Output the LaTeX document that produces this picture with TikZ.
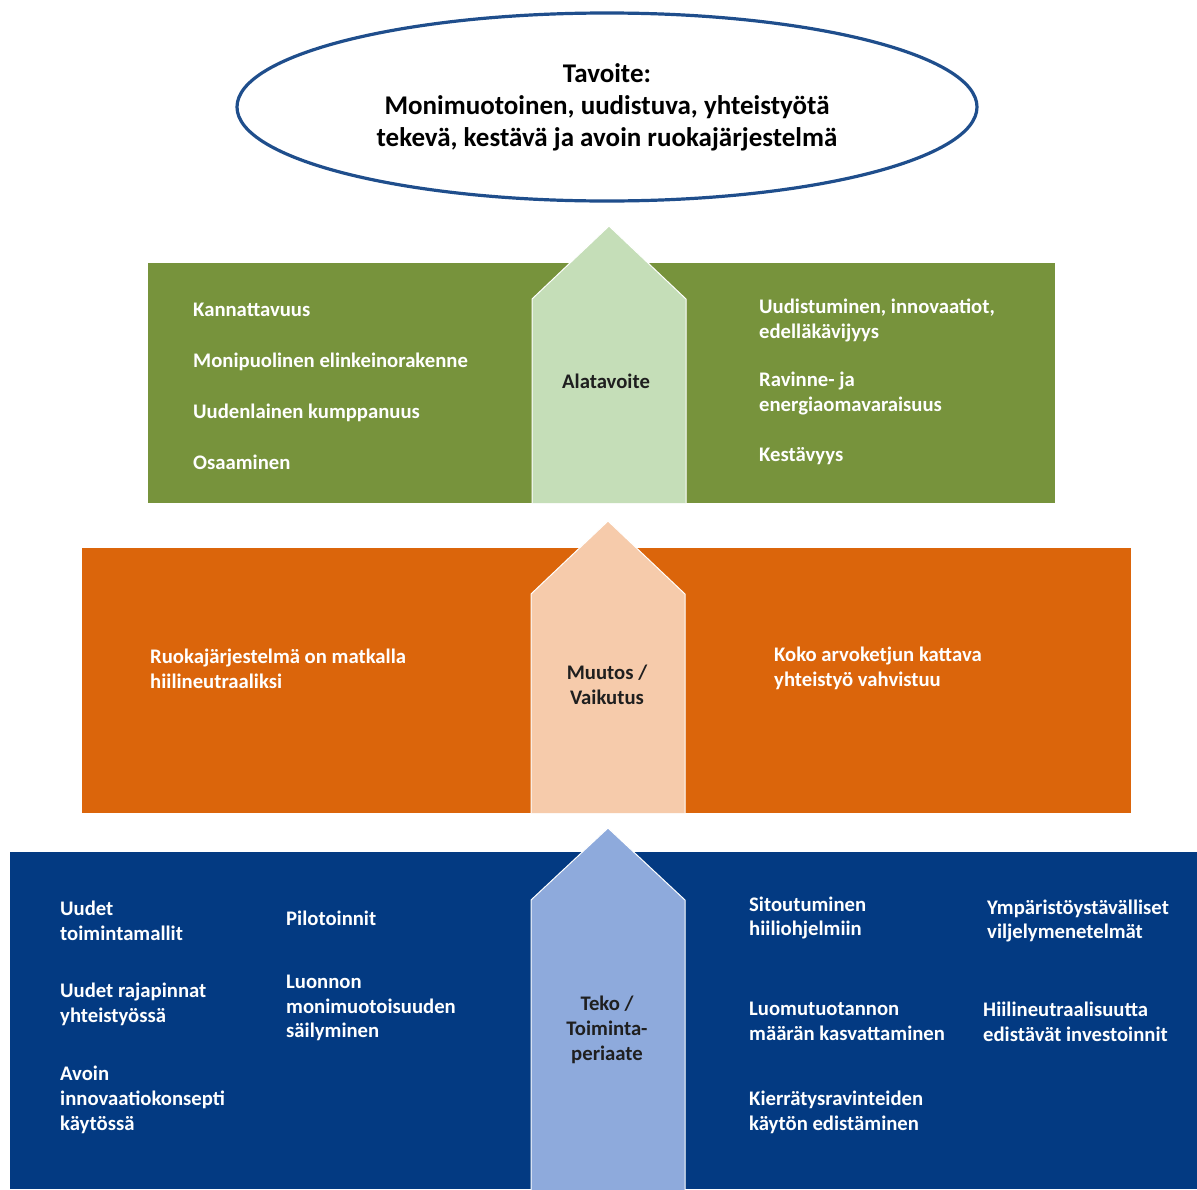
\documentclass[tikz,border=0pt]{standalone}
\usepackage{fontspec}
\setmainfont{Carlito}
\usetikzlibrary{shapes.geometric}
\definecolor{navyline}{HTML}{1F4E8C}
\definecolor{olive}{HTML}{77933C}
\definecolor{lightgreen}{HTML}{C5DEB8}
\definecolor{orangebar}{HTML}{DB650B}
\definecolor{peach}{HTML}{F6CBAB}
\definecolor{bluebar}{HTML}{033A82}
\definecolor{lightblue}{HTML}{8EAADC}
\tikzset{
  lbl/.style={font=\fontsize{20.7}{24.8}\selectfont\bfseries, text=white, align=left, anchor=west, inner sep=0pt},
  ctr/.style={font=\fontsize{20.7}{24.8}\selectfont\bfseries, text=black!88, align=center, inner sep=0pt},
  goal/.style={font=\fontsize{27}{32}\selectfont\bfseries, text=black, align=center, inner sep=0pt},
  upshape/.style={draw=white, line width=1pt},
}
\begin{document}
\begin{tikzpicture}[x=1pt,y=-1pt]
\useasboundingbox[fill=white] (0,0) rectangle (1197,1189);
% goal ellipse
\node[ellipse, draw=navyline, line width=3.2pt, minimum width=740, minimum height=188, inner sep=0pt] (goalell) at (607,107) {};
\node[goal] (goaltxt) at (607,107) {Tavoite:\\Monimuotoinen, uudistuva, yhteistyötä\\tekevä, kestävä ja avoin ruokajärjestelmä};

% green band
\fill[olive] (148,263) rectangle (1055,503);
\path[fill=lightgreen, upshape] (532,503) -- (532,299) -- (609,226) -- (686,299) -- (686,503);
\node[ctr] (alatavoite) at (606,381) {Alatavoite};
\node[lbl] (g1) at (193,310) {Kannattavuus};
\node[lbl] (g2) at (193,362) {Monipuolinen elinkeinorakenne};
\node[lbl] (g3) at (193,413) {Uudenlainen kumppanuus};
\node[lbl] (g4) at (193,462) {Osaaminen};
\node[lbl] (g5) at (759,320.5) {Uudistuminen, innovaatiot,\\edelläkävijyys};
\node[lbl] (g6) at (759,393.5) {Ravinne- ja\\energiaomavaraisuus};
\node[lbl] (g7) at (759,456) {Kestävyys};

% orange band
\fill[orangebar] (82,548) rectangle (1131,813);
\path[fill=peach, upshape] (531,813) -- (531,594) -- (608,521) -- (685,594) -- (685,813);
\node[ctr] (muutos) at (607,684.5) {Muutos /\\Vaikutus};
\node[lbl] (o1) at (150,668.5) {Ruokajärjestelmä on matkalla\\hiilineutraaliksi};
\node[lbl] (o2) at (774,668.5) {Koko arvoketjun kattava\\yhteistyö vahvistuu};

% blue band
\fill[bluebar] (10,852) rectangle (1197,1189);
\path[fill=lightblue, upshape] (531,1190) -- (531,900) -- (608,828) -- (685,900) -- (685,1190);
\node[ctr] (teko) at (607,1030) {Teko /\\Toiminta-\\periaate};
\node[lbl] (b1) at (60,921) {Uudet\\toimintamallit};
\node[lbl] (b2) at (60,1004.5) {Uudet rajapinnat\\yhteistyössä};
\node[lbl] (b3) at (60,1100) {Avoin\\innovaatiokonsepti\\käytössä};
\node[lbl] (b4) at (286,918) {Pilotoinnit};
\node[lbl] (b5) at (286,1008) {Luonnon\\monimuotoisuuden\\säilyminen};
\node[lbl] (b6) at (749,918) {Sitoutuminen\\hiiliohjelmiin};
\node[lbl] (b7) at (987,921) {Ympäristöystävälliset\\viljelymenetelmät};
\node[lbl] (b8) at (749,1021.5) {Luomutuotannon\\määrän kasvattaminen};
\node[lbl] (b9) at (983,1021.5) {Hiilineutraalisuutta\\edistävät investoinnit};
\node[lbl] (b10) at (749,1112) {Kierrätysravinteiden\\käytön edistäminen};
\end{tikzpicture}
\end{document}
